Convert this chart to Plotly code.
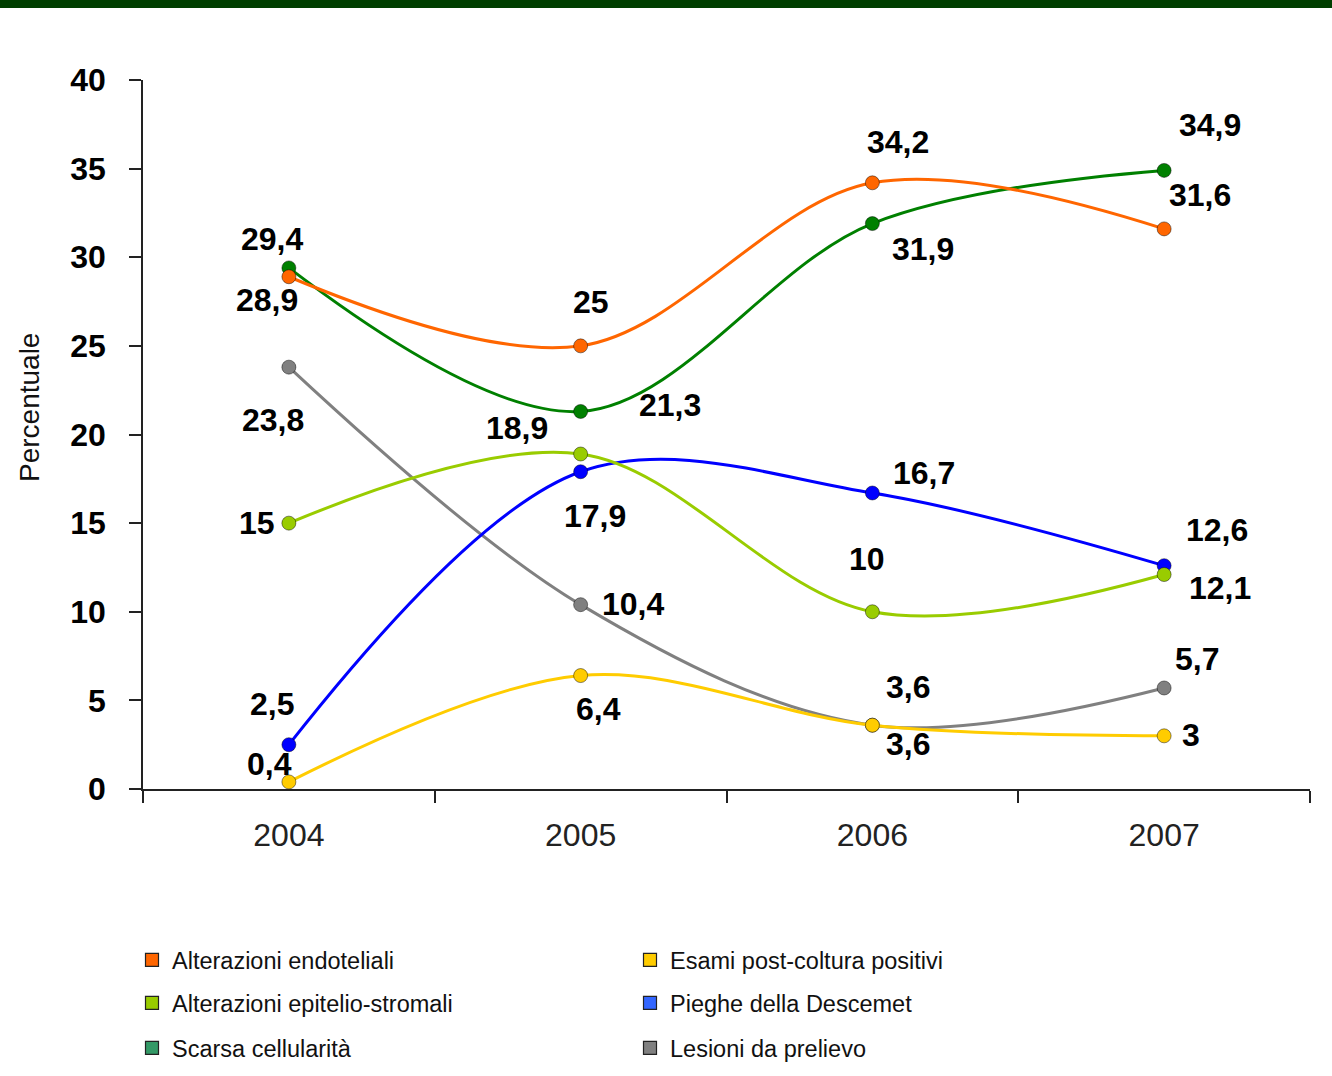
import plotly.graph_objects as go

# Anni e percentuali per categoria
anni = ["2004", "2005", "2006", "2007"]
endoteliali = [28.9, 25, 34.2, 31.6]
epitelio_stromali = [15, 18.9, 10, 12.1]
scarsa_cellularita = [29.4, 21.3, 31.9, 34.9]
post_coltura = [0.4, 6.4, 3.6, 3]
pieghe_descemet = [2.5, 17.9, 16.7, 12.6]
lesioni_prelievo = [23.8, 10.4, 3.6, 5.7]

y_ticks = [0, 5, 10, 15, 20, 25, 30, 35, 40]

FONT = "Liberation Sans, Arial, sans-serif"
W, H = 1332, 1076

# name, values, line colour, legend colour, legend row, label offsets (dx, dy) in px
serie = [
    ("Alterazioni endoteliali", endoteliali, "#FF6600", "#FF6600", "legend",
     [(-22, 23), (10, -44), (26, -41), (36, -34)]),
    ("Esami post-coltura positivi", post_coltura, "#FFCC00", "#FFCC00", "legend",
     [(-19, -18), (18, 33), (36, 19), (27, -1)]),
    ("Alterazioni epitelio-stromali", epitelio_stromali, "#99CC00", "#99CC00", "legend2",
     [(-32, 0), (-64, -26), (-5, -53), (56, 13)]),
    ("Pieghe della Descemet", pieghe_descemet, "#0000FF", "#3366FF", "legend2",
     [(-17, -41), (14, 44), (52, -20), (53, -36)]),
    ("Scarsa cellularità", scarsa_cellularita, "#008000", "#339966", "legend3",
     [(-17, -29), (89, -6), (51, 25), (46, -45)]),
    ("Lesioni da prelievo", lesioni_prelievo, "#808080", "#808080", "legend3",
     [(-16, 53), (52, -1), (36, -38), (33, -29)]),
]

fig = go.Figure()
annotations = []

draw_order = [5, 1, 3, 2, 4, 0]
for i in draw_order:
    name, vals, col, _, _, _ = serie[i]
    fig.add_trace(go.Scatter(
        x=anni, y=vals, mode="lines+markers", name=name, showlegend=False,
        line=dict(color=col, width=3, shape="spline", smoothing=1.0),
        marker=dict(size=14, color=col, line=dict(color="rgba(0,0,0,0.45)", width=1)),
        hoverinfo="skip",
    ))

for name, vals, col, leg_col, leg, offs in serie:
    fig.add_trace(go.Scatter(
        x=[None], y=[None], mode="markers", name=name, legend=leg,
        marker=dict(symbol="square", size=13, color=leg_col, line=dict(color="#222222", width=1.2)),
    ))
    # value labels; category axis positions are the category indices
    for k, (v, (dx, dy)) in enumerate(zip(vals, offs)):
        annotations.append(dict(
            x=k, y=v, xref="x", yref="y", text=f"<b>{v:g}</b>".replace(".", ","),
            showarrow=False, xshift=dx, yshift=-dy,
            font=dict(family=FONT, size=32, color="#000000"),
        ))

# Y axis title
annotations.append(dict(
    x=(30 - 143) / 1167, y=(789 - 408) / 709, xref="paper", yref="paper",
    xanchor="center", yanchor="middle",
    text="Percentuale", textangle=-90,
    showarrow=False, font=dict(family=FONT, size=28, color="#111111"),
))

legend_style = dict(
    xref="container", yref="container",
    x=132 / W, xanchor="left", yanchor="middle", orientation="h",
    entrywidth=453, entrywidthmode="pixels", bgcolor="rgba(0,0,0,0)",
    font=dict(family=FONT, size=23.5, color="#111111"),
)

fig.update_layout(
    width=W, height=H,
    margin=dict(l=143, r=22, t=80, b=287),
    paper_bgcolor="white", plot_bgcolor="white",
    separators=",.",
    annotations=annotations,
    shapes=[dict(type="rect", xref="paper", yref="paper", x0=-0.2, x1=1.1,
                 y0=(789 - 8) / 709, y1=(789 + 2) / 709,
                 fillcolor="#003F00", line=dict(width=0), layer="above")],
    xaxis=dict(
        type="category", range=[-0.5, 3.5], tickson="boundaries",
        ticks="outside", ticklen=12, tickwidth=1.5, tickcolor="#222222",
        showline=True, linecolor="#222222", linewidth=1.5, showgrid=False,
        tickfont=dict(family=FONT, size=32, color="#222222"),
        ticklabelstandoff=17, zeroline=False,
    ),
    yaxis=dict(
        range=[0, 40], tickvals=y_ticks, ticktext=[f"<b>{t}</b>" for t in y_ticks],
        ticks="outside", ticklen=12, tickwidth=1.5,
        tickcolor="#222222", showline=True, linecolor="#222222", linewidth=1.5,
        showgrid=False, zeroline=False,
        tickfont=dict(family=FONT, size=32, color="#000000"),
        ticklabelstandoff=17,
    ),
    legend=dict(legend_style, y=(H - 960) / H),
    legend2=dict(legend_style, y=(H - 1003) / H),
    legend3=dict(legend_style, y=(H - 1048) / H),
)

fig.write_html("out.html")
